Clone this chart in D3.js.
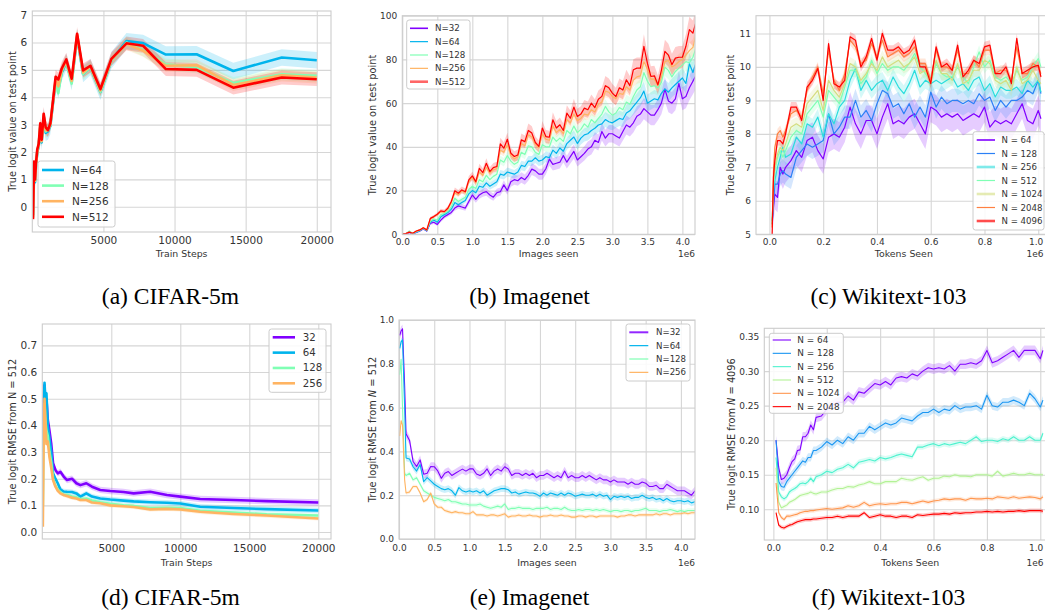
<!DOCTYPE html>
<html><head><meta charset="utf-8">
<script src="https://cdn.jsdelivr.net/npm/d3@7"></script>
<style>body{margin:0;background:#fff;}svg{display:block;}</style>
</head><body>
<svg id="fig" width="1045" height="610"></svg>
<script>
// ---------------- DATA ----------------
// (a) CIFAR-5m: true logit value vs train steps
const cifarSteps = [50,120,190,260,350,450,560,660,800,940,1100,1270,1460,1640,1830,2070,2390,2770,3150,3570,4090,4790,5560,6620,7790,9390,11550,14130,17540,20000];
const cifarLogit64  = [-0.3,1.5,0.9,1.5,2.0,2.2,2.9,2.35,3.3,2.7,2.75,2.95,3.8,4.55,4.3,4.9,5.3,4.55,6.2,4.85,5.1,4.2,5.35,6.05,5.98,5.56,5.57,4.96,5.45,5.35];
const cifarLogit128 = [-0.35,1.55,0.95,1.5,2.0,2.25,2.95,2.4,3.3,2.75,2.8,3.0,3.85,4.6,4.15,4.95,5.3,4.5,6.25,4.85,5.1,4.2,5.35,6.0,5.72,5.2,5.1,4.52,4.84,4.78];
const cifarLogit256 = [-0.4,1.6,0.95,1.55,2.05,2.25,3.0,2.4,3.35,2.8,2.8,3.0,3.85,4.65,4.4,5.0,5.33,4.6,6.28,4.9,5.12,4.25,5.38,5.95,5.7,5.15,5.17,4.45,4.8,4.72];
const cifarLogit512 = [-0.45,1.65,1.0,1.6,2.1,2.3,3.05,2.45,3.4,2.9,2.8,3.05,3.9,4.75,4.65,5.05,5.38,4.68,6.32,4.98,5.15,4.3,5.4,5.97,5.88,5.03,5.0,4.35,4.72,4.66];
const cifarLogitBand = [0.3,0.22,0.22,0.25];

// (b) Imagenet: true logit value vs images seen (x in 1e6)
const imgSeen = [0,0.05,0.1,0.15,0.2,0.25,0.3,0.35,0.4,0.45,0.5,0.55,0.6,0.65,0.7,0.75,0.8,0.85,0.9,0.95,1.0,1.05,1.1,1.15,1.2,1.25,1.3,1.35,1.4,1.45,1.5,1.55,1.6,1.65,1.7,1.75,1.8,1.85,1.9,1.95,2.0,2.05,2.1,2.15,2.2,2.25,2.3,2.35,2.4,2.45,2.5,2.55,2.6,2.65,2.7,2.75,2.8,2.85,2.9,2.95,3.0,3.05,3.1,3.15,3.2,3.25,3.3,3.35,3.4,3.45,3.5,3.55,3.6,3.65,3.7,3.75,3.8,3.85,3.9,3.95,4.0,4.05,4.1,4.15,4.2];
const imgLogit32 = [0,0.1,0.8,0.2,0.8,1.5,2.5,1.5,5.0,5.5,4.5,6.5,8.0,9.0,10.0,12.0,13.0,12.5,12.0,15.0,18.0,16.0,18.0,19.0,19.5,18.0,17.0,19.0,19.5,22.6,20.0,24.0,25.0,24.5,26.0,25.0,27.0,29.8,29.0,27.5,27.5,30.0,34.4,32.0,32.5,33.0,36.0,33.0,35.5,37.9,34.0,35.5,37.0,39.0,40.0,43.0,42.0,47.0,44.0,46.0,46.0,45.0,44.0,47.0,50.0,49.0,51.0,54.0,55.0,57.5,56.0,54.5,54.5,57.0,60.0,66.4,61.0,60.0,62.0,69.0,62.0,63.0,67.0,70.0,73.0];
const imgLogit64 = [0,0.2,1.2,0.3,1.0,1.6,2.6,1.6,5.5,6.5,5.5,8.0,9.0,10.0,11.5,14.5,13.5,14.5,15.5,18.5,20.0,19.0,22.0,21.5,23.5,22.0,23.0,24.0,27.5,27.0,28.5,28.0,27.5,28.5,31.5,31.0,33.5,33.5,35.0,33.5,34.0,35.5,35.0,38.5,37.0,39.5,38.0,41.5,43.0,44.5,41.5,44.0,45.5,46.0,47.5,48.5,50.0,50.5,52.5,51.5,51.0,52.0,53.0,52.5,55.5,56.5,58.5,60.5,62.5,65.5,60.0,61.0,62.0,61.5,64.5,66.5,65.0,67.0,68.5,70.0,71.5,69.0,78.0,74.0,79.0];
const imgLogit128 = [0,0.2,1.5,0.4,1.2,1.8,2.8,1.8,6.0,7.0,6.5,9.0,9.5,10.5,12.5,16.5,15.0,16.0,17.0,20.5,22.0,21.0,25.0,24.0,27.0,25.0,26.5,27.5,34.0,33.0,36.0,33.5,32.0,33.0,37.5,36.5,40.5,40.0,37.5,36.5,41.0,40.0,40.0,44.5,42.5,44.0,42.5,47.5,46.0,49.5,46.5,48.0,50.5,49.0,52.5,51.0,53.0,55.0,58.5,56.0,54.5,55.5,58.0,57.0,60.5,59.5,63.0,66.0,67.5,74.0,70.0,67.5,68.0,67.0,69.5,76.5,75.0,72.0,74.5,76.0,77.5,79.0,78.5,81.0,86.0];
const imgLogit256 = [0,0.3,1.0,0.5,1.4,2.0,2.9,2.0,7.0,8.0,9.0,10.3,10.2,11.5,14.5,19.0,18.0,19.8,19.0,24.0,26.0,23.5,28.5,27.0,30.5,28.0,29.5,30.0,38.5,37.5,41.0,36.0,34.5,35.5,41.5,40.5,45.5,44.5,41.0,39.5,46.0,43.5,43.0,49.5,46.5,48.0,46.0,52.5,51.0,55.0,52.0,53.0,55.0,54.5,57.0,56.0,59.5,60.5,65.5,65.0,63.0,62.0,64.5,64.0,67.5,66.0,70.5,72.0,72.5,79.0,75.5,71.0,71.0,68.0,72.0,79.0,79.5,76.5,77.5,79.0,80.0,82.0,84.0,85.5,92.0];
const imgLogit512 = [0,0.3,1.0,0.5,1.5,2.0,3.0,2.0,7.3,8.1,9.2,10.7,10.4,11.9,15.0,19.9,18.8,20.3,19.5,24.9,26.7,24.1,30.2,28.2,32.5,28.7,30.5,31.0,41.4,39.4,43.5,37.1,35.6,36.3,43.2,42.4,47.5,46.3,42.0,40.2,48.6,44.7,44.4,52.4,48.6,50.1,47.5,55.4,53.1,58.2,53.9,55.0,57.7,57.0,60.0,58.0,61.8,63.1,68.0,67.0,64.6,63.0,67.0,66.0,70.7,68.0,75.3,76.0,76.0,86.0,78.3,72.2,72.5,68.4,75.0,83.7,82.0,77.6,80.6,81.0,81.0,86.0,93.6,92.0,97.9];
const imgLogitBandRel = [0.08,0.06,0.05,0.04,0.06];

// (c) Wikitext-103: true logit value vs tokens seen (x in 1e6)
const wikiSeen = [0.01,0.015,0.02,0.03,0.04,0.05,0.06,0.08,0.10,0.12,0.14,0.16,0.18,0.20,0.22,0.24,0.26,0.28,0.30,0.32,0.34,0.36,0.38,0.40,0.42,0.44,0.46,0.48,0.50,0.52,0.54,0.56,0.58,0.60,0.62,0.64,0.66,0.68,0.70,0.72,0.74,0.76,0.78,0.80,0.82,0.84,0.86,0.88,0.90,0.92,0.94,0.96,0.98,1.00,1.01];
const wikiLogit64   = [5.4,5.8,6.2,6.1,7.0,6.8,7.0,7.2,7.5,7.3,7.8,7.9,7.5,7.25,7.9,8.0,7.9,8.2,8.8,8.3,8.0,8.4,8.4,8.0,8.5,8.9,8.3,8.4,8.3,8.5,8.6,8.3,8.0,8.8,8.7,8.5,8.6,8.5,8.6,8.4,8.5,8.6,8.5,8.8,8.2,8.4,8.3,8.4,8.3,8.6,8.9,8.4,8.3,8.7,8.45];
const wikiLogit128  = [5.3,5.9,6.5,6.5,6.8,6.9,6.8,6.7,7.3,7.5,7.7,7.6,7.7,7.8,8.6,8.0,8.2,8.5,8.5,9.0,8.5,8.7,8.4,8.9,9.3,9.2,8.8,8.9,8.6,8.9,8.5,8.8,8.5,9.25,8.8,9.1,8.9,9.0,9.0,8.9,9.0,8.9,9.2,9.0,9.1,8.7,9.0,8.8,9.0,9.0,9.1,9.3,9.2,9.6,9.2];
const wikiLogit256  = [5.4,6.3,6.6,7.0,7.3,7.6,7.3,7.4,7.9,7.7,8.3,8.2,8.5,7.9,8.6,8.3,8.8,9.0,9.6,9.95,9.3,9.6,9.3,9.5,9.6,9.3,9.7,9.4,9.2,9.5,9.9,9.4,9.6,9.5,9.6,9.5,9.6,9.7,9.4,9.5,9.3,9.6,9.7,9.3,9.5,9.1,9.4,9.3,9.3,9.4,9.2,9.6,9.4,9.6,9.25];
const wikiLogit512  = [5.3,6.5,6.9,7.3,7.5,7.3,7.5,7.9,8.1,8.0,8.6,8.8,9.0,8.5,9.3,9.1,8.9,9.4,9.9,9.9,9.5,9.7,10.2,9.8,10.1,9.9,10.0,10.0,9.9,10.1,10.4,10.0,9.8,9.6,10.1,9.8,9.7,9.7,10.0,9.7,9.5,10.0,10.45,10.0,10.2,9.7,9.6,9.7,9.5,9.9,9.6,9.7,10.0,10.25,10.0];
const wikiLogit1024 = [5.3,6.6,7.0,7.4,7.6,7.5,7.7,8.2,8.3,8.2,8.9,9.1,9.3,8.7,9.6,9.3,9.1,9.5,10.1,10.0,9.6,9.8,10.1,9.9,10.3,10.0,10.1,10.2,10.0,10.1,10.3,9.8,9.9,9.5,10.2,9.8,9.8,9.6,10.1,9.5,9.6,9.9,9.9,10.2,10.1,9.6,9.5,9.6,9.3,10.0,9.5,9.6,9.9,9.6,9.5];
const wikiLogit2048 = [5.2,6.9,7.6,8.0,8.1,7.9,8.1,8.6,8.7,8.5,9.3,9.7,10.0,9.2,10.5,9.6,9.3,9.8,10.8,10.6,10.1,10.2,10.7,10.3,10.8,10.3,10.4,10.5,10.3,10.4,10.6,10.1,10.1,9.6,10.5,10.0,10.0,9.9,10.5,9.8,9.8,10.2,10.0,10.5,10.5,9.8,9.9,9.9,9.6,10.6,9.8,9.8,10.1,10.0,9.8];
const wikiLogit4096 = [5.0,6.7,7.2,7.8,7.8,7.7,8.0,8.8,8.8,8.4,9.4,9.6,9.95,9.0,10.7,9.5,9.4,9.6,10.9,10.8,10.0,10.3,10.85,10.2,11.0,10.5,10.5,10.6,10.4,10.5,10.8,10.0,10.0,9.5,10.6,10.0,10.1,9.9,10.65,9.7,9.9,10.2,10.1,10.6,10.65,9.8,9.8,10.0,9.5,10.85,9.8,9.9,10.0,10.05,9.7];
const wikiLogitBand = [0.45,0.35,0.25,0.2,0.2,0.15,0.15];

// (d) CIFAR-5m: RMSE from N=512 vs train steps
const cifarRmseSteps = [40,100,160,220,300,400,520,650,780,950,1120,1310,1550,1790,2150,2470,2760,3190,3600,4200,4930,5890,6620,7820,9030,10000,11440,13850,16260,20000];
const cifarRmse32  = [0.35,0.5,0.55,0.48,0.5,0.42,0.38,0.33,0.258,0.233,0.22,0.226,0.208,0.195,0.2,0.183,0.176,0.183,0.17,0.158,0.154,0.15,0.145,0.151,0.139,0.133,0.124,0.12,0.116,0.111];
const cifarRmse64  = [0.3,0.45,0.56,0.5,0.52,0.4,0.35,0.3,0.22,0.2,0.183,0.16,0.152,0.151,0.15,0.145,0.133,0.145,0.133,0.126,0.122,0.118,0.115,0.112,0.11,0.107,0.095,0.09,0.086,0.081];
const cifarRmse128 = [0.1,0.4,0.48,0.42,0.38,0.36,0.3,0.26,0.2,0.175,0.16,0.15,0.14,0.14,0.133,0.13,0.124,0.126,0.118,0.112,0.106,0.1,0.098,0.09,0.091,0.09,0.08,0.073,0.067,0.062];
const cifarRmse256 = [0.02,0.35,0.5,0.42,0.33,0.34,0.28,0.24,0.195,0.17,0.155,0.145,0.139,0.135,0.129,0.126,0.12,0.12,0.111,0.108,0.1,0.097,0.094,0.085,0.087,0.085,0.076,0.068,0.062,0.051];
const cifarRmseBand = [0.012,0.01,0.008,0.008];

// (e) Imagenet: RMSE from N=512 vs images seen (x in 1e6)
const imgRmseSeen = [0.01,0.03,0.05,0.08,0.1,0.15,0.2,0.25,0.3,0.35,0.4,0.45,0.5,0.55,0.6,0.65,0.7,0.75,0.8,0.85,0.9,0.95,1.0,1.05,1.1,1.15,1.2,1.25,1.3,1.35,1.4,1.45,1.5,1.55,1.6,1.65,1.7,1.75,1.8,1.85,1.9,1.95,2.0,2.05,2.1,2.15,2.2,2.25,2.3,2.35,2.4,2.45,2.5,2.55,2.6,2.65,2.7,2.75,2.8,2.85,2.9,2.95,3.0,3.05,3.1,3.15,3.2,3.25,3.3,3.35,3.4,3.45,3.5,3.55,3.6,3.65,3.7,3.75,3.8,3.85,3.9,3.95,4.0,4.05,4.1,4.15,4.2];
const imgRmse32  = [0.93,0.95,0.96,0.70,0.48,0.45,0.354,0.331,0.361,0.296,0.30,0.331,0.33,0.311,0.277,0.30,0.308,0.29,0.30,0.31,0.319,0.31,0.32,0.32,0.297,0.29,0.30,0.32,0.29,0.31,0.32,0.31,0.33,0.32,0.29,0.30,0.30,0.29,0.30,0.29,0.30,0.28,0.29,0.29,0.30,0.29,0.28,0.29,0.28,0.31,0.28,0.29,0.28,0.28,0.29,0.28,0.29,0.28,0.27,0.28,0.27,0.27,0.26,0.27,0.26,0.26,0.26,0.25,0.26,0.25,0.25,0.26,0.255,0.24,0.24,0.245,0.23,0.23,0.25,0.24,0.23,0.22,0.22,0.22,0.21,0.20,0.22];
const imgRmse64  = [0.87,0.90,0.91,0.60,0.37,0.365,0.33,0.31,0.34,0.262,0.28,0.265,0.25,0.24,0.23,0.225,0.23,0.22,0.20,0.235,0.22,0.215,0.22,0.215,0.22,0.21,0.22,0.20,0.21,0.22,0.225,0.23,0.23,0.225,0.21,0.215,0.205,0.21,0.215,0.21,0.21,0.205,0.195,0.21,0.20,0.21,0.205,0.20,0.21,0.20,0.21,0.205,0.195,0.20,0.205,0.20,0.20,0.205,0.195,0.205,0.195,0.20,0.18,0.195,0.19,0.195,0.19,0.195,0.185,0.19,0.19,0.20,0.19,0.185,0.19,0.18,0.185,0.175,0.185,0.175,0.17,0.175,0.175,0.17,0.175,0.165,0.17];
const imgRmse128 = [0.75,0.82,0.60,0.30,0.29,0.30,0.27,0.28,0.25,0.22,0.21,0.20,0.19,0.185,0.18,0.175,0.18,0.17,0.17,0.165,0.16,0.16,0.155,0.155,0.155,0.16,0.15,0.145,0.14,0.145,0.15,0.145,0.16,0.135,0.14,0.14,0.145,0.14,0.14,0.14,0.135,0.14,0.14,0.14,0.145,0.135,0.14,0.14,0.135,0.145,0.135,0.13,0.13,0.135,0.13,0.135,0.135,0.13,0.135,0.13,0.135,0.13,0.125,0.13,0.13,0.125,0.13,0.13,0.125,0.13,0.13,0.135,0.14,0.13,0.13,0.13,0.125,0.13,0.13,0.135,0.13,0.125,0.13,0.125,0.13,0.13,0.13];
const imgRmse256 = [0.47,0.54,0.52,0.27,0.21,0.215,0.24,0.24,0.21,0.17,0.18,0.21,0.16,0.145,0.145,0.13,0.125,0.12,0.125,0.12,0.12,0.115,0.115,0.125,0.11,0.11,0.11,0.105,0.11,0.11,0.105,0.11,0.115,0.10,0.105,0.105,0.11,0.105,0.105,0.11,0.105,0.105,0.10,0.105,0.105,0.11,0.105,0.105,0.11,0.105,0.105,0.10,0.10,0.105,0.105,0.10,0.105,0.105,0.10,0.105,0.105,0.105,0.105,0.105,0.10,0.105,0.105,0.11,0.11,0.105,0.11,0.11,0.11,0.11,0.11,0.115,0.11,0.115,0.115,0.11,0.115,0.115,0.115,0.12,0.115,0.12,0.12];
const imgRmseBand = [0.02,0.015,0.01,0.008];

// (f) Wikitext-103: RMSE from N=4096 vs tokens seen (x in 1e6)
const wikiRmseSeen = [0.01,0.02,0.03,0.04,0.05,0.06,0.07,0.08,0.09,0.10,0.11,0.12,0.13,0.14,0.15,0.16,0.18,0.20,0.22,0.24,0.26,0.28,0.30,0.32,0.34,0.36,0.38,0.40,0.42,0.44,0.46,0.48,0.50,0.52,0.54,0.56,0.58,0.60,0.62,0.64,0.66,0.68,0.70,0.72,0.74,0.76,0.78,0.80,0.82,0.84,0.86,0.88,0.90,0.92,0.94,0.96,0.98,1.00,1.01];
const wikiRmse64   = [0.200,0.160,0.143,0.145,0.150,0.160,0.169,0.173,0.185,0.186,0.205,0.205,0.210,0.222,0.215,0.233,0.235,0.245,0.250,0.255,0.255,0.264,0.258,0.270,0.268,0.275,0.282,0.280,0.285,0.280,0.290,0.292,0.290,0.296,0.293,0.300,0.305,0.303,0.305,0.303,0.308,0.300,0.310,0.310,0.312,0.310,0.315,0.330,0.312,0.315,0.320,0.325,0.330,0.320,0.330,0.330,0.330,0.318,0.330];
const wikiRmse128  = [0.200,0.140,0.133,0.132,0.140,0.145,0.150,0.155,0.160,0.165,0.170,0.168,0.175,0.175,0.185,0.185,0.190,0.198,0.193,0.200,0.195,0.205,0.200,0.210,0.210,0.220,0.215,0.220,0.225,0.222,0.225,0.232,0.230,0.228,0.235,0.240,0.240,0.245,0.240,0.245,0.243,0.250,0.245,0.248,0.248,0.250,0.245,0.265,0.250,0.248,0.255,0.255,0.258,0.255,0.250,0.268,0.260,0.248,0.258];
const wikiRmse256  = [0.175,0.125,0.118,0.115,0.118,0.125,0.128,0.130,0.133,0.137,0.138,0.137,0.140,0.145,0.140,0.147,0.150,0.155,0.153,0.158,0.160,0.165,0.160,0.168,0.170,0.172,0.170,0.175,0.173,0.175,0.178,0.180,0.178,0.176,0.190,0.190,0.193,0.195,0.192,0.195,0.193,0.195,0.197,0.195,0.200,0.205,0.198,0.200,0.200,0.198,0.202,0.200,0.205,0.200,0.200,0.205,0.200,0.200,0.210];
const wikiRmse512  = [0.160,0.110,0.102,0.104,0.106,0.110,0.112,0.114,0.117,0.120,0.121,0.122,0.123,0.125,0.123,0.122,0.125,0.125,0.128,0.130,0.130,0.133,0.132,0.135,0.137,0.140,0.137,0.137,0.140,0.140,0.140,0.145,0.143,0.142,0.145,0.147,0.142,0.145,0.145,0.148,0.147,0.150,0.148,0.148,0.147,0.150,0.150,0.150,0.148,0.155,0.148,0.150,0.152,0.150,0.150,0.152,0.150,0.150,0.150];
const wikiRmse1024 = [0.138,0.095,0.088,0.085,0.090,0.090,0.091,0.092,0.093,0.095,0.096,0.097,0.097,0.098,0.098,0.099,0.100,0.101,0.100,0.101,0.102,0.105,0.103,0.105,0.110,0.105,0.107,0.108,0.107,0.108,0.108,0.110,0.110,0.108,0.110,0.112,0.110,0.112,0.113,0.115,0.114,0.115,0.115,0.113,0.116,0.115,0.115,0.116,0.115,0.118,0.117,0.116,0.118,0.116,0.117,0.118,0.117,0.115,0.118];
const wikiRmse2048 = [0.095,0.077,0.074,0.073,0.075,0.077,0.078,0.080,0.082,0.083,0.084,0.085,0.085,0.085,0.086,0.086,0.087,0.088,0.088,0.090,0.088,0.090,0.090,0.090,0.095,0.088,0.090,0.092,0.090,0.090,0.088,0.090,0.090,0.088,0.092,0.091,0.092,0.093,0.093,0.094,0.093,0.095,0.094,0.095,0.095,0.096,0.096,0.097,0.096,0.097,0.096,0.097,0.097,0.098,0.097,0.098,0.098,0.098,0.097];
const wikiRmseBand = [0.007,0.006,0.004,0.003,0.003,0.003];

// tick values
const ticksSteps = [5000,10000,15000,20000];
const ticksLogitA = [0,1,2,3,4,5,6,7];
const ticksImgX = [0,0.5,1,1.5,2,2.5,3,3.5,4];
const ticksLogitB = [0,20,40,60,80,100];
const ticksWikiX = [0,0.2,0.4,0.6,0.8,1.0];
const ticksLogitC = [5,6,7,8,9,10,11];
const ticksRmseD = [0,0.1,0.2,0.3,0.4,0.5,0.6,0.7];
const ticksRmseE = [0,0.2,0.4,0.6,0.8,1.0];
const ticksRmseF = [0.10,0.15,0.20,0.25,0.30,0.35];

// legend labels
const labelsA = ['N=64','N=128','N=256','N=512'];
const labelsB = ['N=32','N=64','N=128','N=256','N=512'];
const labelsC = ['N = 64','N = 128','N = 256','N = 512','N = 1024','N = 2048','N = 4096'];
const labelsD = ['32','64','128','256'];
const labelsE = ['N=32','N=64','N=128','N=256'];
const labelsF = ['N = 64','N = 128','N = 256','N = 512','N = 1024','N = 2048'];
const captions = ['(a) CIFAR-5m','(b) Imagenet','(c) Wikitext-103','(d) CIFAR-5m','(e) Imagenet','(f) Wikitext-103'];

// ---------------- STYLE ----------------
const rainbow5 = ['#8000ff','#00b4ec','#80ffb4','#ffb462','#ff0000'];
const rainbow7 = ['#8000ff','#2b80f6','#2bdddd','#80ffb4','#d4dd80','#ff8042','#ff0000'];
const rainbow6 = ['#8000ff','#1a96f2','#4df2ce','#b3f296','#ff964f','#ff0000'];
const FONT = '"DejaVu Sans", sans-serif';
const GRID = '#d6d6d6', TXT = '#333333';
const EDGE = 1043.5;
const svg = d3.select('#fig');

function mk(xs, ys, color, w){ return {x: xs, y: ys, c: color, w: w}; }

function keepInside(sel){
  sel.each(function(){
    const r = this.getBoundingClientRect();
    if (r.right > EDGE) d3.select(this).attr('dx', EDGE - r.right);
  });
}

function drawPanel(p){
  const x = d3.scaleLinear().domain(p.xd).range([p.l, p.r]);
  const y = d3.scaleLinear().domain(p.yd).range([p.b, p.t]);
  const g = svg.append('g');
  const cid = 'clip-' + p.id;
  g.append('clipPath').attr('id', cid).append('rect')
    .attr('x', p.l).attr('y', p.t).attr('width', p.r - p.l).attr('height', p.b - p.t);
  const gx = g.append('g').attr('transform', `translate(0,${p.b})`)
    .call(d3.axisBottom(x).tickValues(p.xt).tickSize(-(p.b - p.t)).tickFormat(''));
  const gy = g.append('g').attr('transform', `translate(${p.l},0)`)
    .call(d3.axisLeft(y).tickValues(p.yt).tickSize(-(p.r - p.l)).tickFormat(''));
  [gx, gy].forEach(a => { a.select('.domain').remove(); a.selectAll('line').attr('stroke', GRID).attr('stroke-width', 1.1); });

  const plot = g.append('g').attr('clip-path', `url(#${cid})`);
  p.series.forEach(s => {
    const pts = s.x.map((xv, i) => ({x: xv, v: s.y[i], w: s.w(s.y[i])}));
    plot.append('path').datum(pts)
      .attr('d', d3.area().x(d => x(d.x)).y0(d => y(d.v - d.w)).y1(d => y(d.v + d.w)))
      .attr('fill', s.c).attr('fill-opacity', 0.2).attr('stroke', 'none');
  });
  p.series.forEach(s => {
    const pts = s.x.map((xv, i) => ({x: xv, v: s.y[i]}));
    plot.append('path').datum(pts)
      .attr('d', d3.line().x(d => x(d.x)).y(d => y(d.v)))
      .attr('fill', 'none').attr('stroke', s.c).attr('stroke-width', p.lw)
      .attr('stroke-linejoin', 'round').attr('stroke-linecap', 'butt');
  });
  g.append('rect').attr('x', p.l).attr('y', p.t).attr('width', p.r - p.l).attr('height', p.b - p.t)
    .attr('fill', 'none').attr('stroke', '#cccccc').attr('stroke-width', 1.1);

  const ax = g.append('g').attr('transform', `translate(0,${p.b})`)
    .call(d3.axisBottom(x).tickValues(p.xt).tickSize(0).tickPadding(p.xpad).tickFormat(p.xf));
  const ay = g.append('g').attr('transform', `translate(${p.l},0)`)
    .call(d3.axisLeft(y).tickValues(p.yt).tickSize(0).tickPadding(5).tickFormat(p.yf));
  [ax, ay].forEach(a => {
    a.select('.domain').remove();
    a.attr('font-family', FONT).attr('font-size', p.fs);
    a.selectAll('text').attr('fill', TXT);
  });
  keepInside(ax.selectAll('text'));

  // axis labels
  g.append('text').attr('x', (p.l + p.r) / 2).attr('y', p.xly).attr('text-anchor', 'middle')
    .attr('font-family', FONT).attr('font-size', 9.4).attr('fill', TXT).text(p.xlabel);
  if (p.offset) {
    g.append('text').attr('x', Math.min(p.r, EDGE)).attr('y', p.xly).attr('text-anchor', 'end')
      .attr('font-family', FONT).attr('font-size', 9).attr('fill', TXT).text(p.offset);
  }
  const yl = g.append('text').attr('transform', `translate(${p.ylx},${(p.t + p.b) / 2}) rotate(-90)`)
    .attr('text-anchor', 'middle').attr('dominant-baseline', 'central')
    .attr('font-family', FONT).attr('font-size', 9.8).attr('fill', TXT);
  p.ylabel.forEach(part => {
    yl.append('tspan').attr('font-style', part[1] ? 'italic' : 'normal').text(part[0]);
  });

  // legend
  const L = p.legend;
  g.append('rect').attr('x', L.x).attr('y', L.y).attr('width', L.w).attr('height', L.h).attr('rx', 2.5)
    .attr('fill', '#ffffff').attr('fill-opacity', 0.85).attr('stroke', '#cccccc').attr('stroke-width', 1);
  L.labels.forEach((lab, i) => {
    const yy = L.ry + i * L.dy;
    const st = L.styles ? L.styles[i] : [p.lw, 1];
    g.append('line').attr('x1', L.lx0).attr('x2', L.lx1).attr('y1', yy).attr('y2', yy)
      .attr('stroke', p.series[i].c).attr('stroke-width', st[0]).attr('stroke-opacity', st[1]);
    g.append('text').attr('x', L.tx).attr('y', yy).attr('dominant-baseline', 'central')
      .attr('font-family', FONT).attr('font-size', L.fs).attr('fill', TXT).text(lab);
  });

  // caption
  svg.append('text').attr('x', p.capx).attr('y', p.capy).attr('text-anchor', 'middle')
    .attr('font-family', '"Liberation Serif", serif').attr('font-size', 23.5).attr('fill', '#000').text(p.caption);
}

const fmtInt = d3.format('d'), fmt1 = d3.format('.1f'), fmt2 = d3.format('.2f');

drawPanel({
  id: 'a', l: 32.3, r: 331, t: 11, b: 232, xd: [0, 21000], yd: [-0.92, 7.15],
  xt: ticksSteps, yt: ticksLogitA, xf: fmtInt, yf: fmtInt, fs: 10.5, xpad: 5, lw: 2.6,
  series: [
    mk(cifarSteps, cifarLogit64, rainbow5[1], () => cifarLogitBand[0]),
    mk(cifarSteps, cifarLogit128, rainbow5[2], () => cifarLogitBand[1]),
    mk(cifarSteps, cifarLogit256, rainbow5[3], () => cifarLogitBand[2]),
    mk(cifarSteps, cifarLogit512, rainbow5[4], () => cifarLogitBand[3])
  ],
  xlabel: 'Train Steps', xly: 257, ylx: 12, ylabel: [['True logit value on test point', false]],
  legend: {x: 38, y: 161, w: 77, h: 66, ry: 170, dy: 15.6, lx0: 42, lx1: 64, tx: 72, fs: 10.5, labels: labelsA},
  caption: captions[0], capx: 170.5, capy: 304
});

drawPanel({
  id: 'b', l: 402.3, r: 695, t: 15.7, b: 234.3, xd: [0, 4.18], yd: [0, 100],
  xt: ticksImgX, yt: ticksLogitB, xf: fmt1, yf: fmtInt, fs: 9, xpad: 4, lw: 1.2,
  series: [
    mk(imgSeen, imgLogit32, rainbow5[0], v => imgLogitBandRel[0] * v + 0.3),
    mk(imgSeen, imgLogit64, rainbow5[1], v => imgLogitBandRel[1] * v + 0.3),
    mk(imgSeen, imgLogit128, rainbow5[2], v => imgLogitBandRel[2] * v + 0.3),
    mk(imgSeen, imgLogit256, rainbow5[3], v => imgLogitBandRel[3] * v + 0.3),
    mk(imgSeen, imgLogit512, rainbow5[4], v => imgLogitBandRel[4] * v + 0.3)
  ],
  xlabel: 'Images seen', offset: '1e6', xly: 257, ylx: 372, ylabel: [['True logit value on test point', false]],
  legend: {x: 406.7, y: 20, w: 63.3, h: 69, ry: 28.3, dy: 13.35, lx0: 410, lx1: 428, tx: 435, fs: 8.7, labels: labelsB,
           styles: [[1.6, 1], [1.2, 1], [1.2, 1], [1.2, 1], [2.6, 0.6]]},
  caption: captions[1], capx: 529.5, capy: 304
});

drawPanel({
  id: 'c', l: 756, r: 1051.7, t: 15.7, b: 234.3, xd: [-0.05, 1.05], yd: [5, 11.53],
  xt: ticksWikiX, yt: ticksLogitC, xf: fmt1, yf: fmtInt, fs: 9, xpad: 4, lw: 1.2,
  series: [
    mk(wikiSeen, wikiLogit64, rainbow7[0], () => wikiLogitBand[0]),
    mk(wikiSeen, wikiLogit128, rainbow7[1], () => wikiLogitBand[1]),
    mk(wikiSeen, wikiLogit256, rainbow7[2], () => wikiLogitBand[2]),
    mk(wikiSeen, wikiLogit512, rainbow7[3], () => wikiLogitBand[3]),
    mk(wikiSeen, wikiLogit1024, rainbow7[4], () => wikiLogitBand[4]),
    mk(wikiSeen, wikiLogit2048, rainbow7[5], () => wikiLogitBand[5]),
    mk(wikiSeen, wikiLogit4096, rainbow7[6], () => wikiLogitBand[6])
  ],
  xlabel: 'Tokens Seen', offset: '1e6', xly: 257, ylx: 730, ylabel: [['True logit value on test point', false]],
  legend: {x: 973, y: 131.7, w: 71, h: 98.3, ry: 140, dy: 13.5, lx0: 976.7, lx1: 995, tx: 1001.5, fs: 8.6, labels: labelsC,
           styles: [[2, 0.8], [1.2, 1], [2.6, 0.6], [1.2, 1], [2.6, 0.6], [1.2, 1], [2.6, 0.7]]},
  caption: captions[2], capx: 888.5, capy: 304
});

drawPanel({
  id: 'd', l: 42.3, r: 331, t: 324, b: 539, xd: [0, 20920], yd: [-0.026, 0.78],
  xt: ticksSteps, yt: ticksRmseD, xf: fmtInt, yf: fmt1, fs: 10.5, xpad: 6, lw: 2.6,
  series: [
    mk(cifarRmseSteps, cifarRmse32, rainbow5[0], () => cifarRmseBand[0]),
    mk(cifarRmseSteps, cifarRmse64, rainbow5[1], () => cifarRmseBand[1]),
    mk(cifarRmseSteps, cifarRmse128, rainbow5[2], () => cifarRmseBand[2]),
    mk(cifarRmseSteps, cifarRmse256, rainbow5[3], () => cifarRmseBand[3])
  ],
  xlabel: 'Train Steps', xly: 566, ylx: 12, ylabel: [['True logit RMSE from N = 512', false]],
  legend: {x: 269, y: 329, w: 57, h: 63.3, ry: 337.3, dy: 15.33, lx0: 272.7, lx1: 295, tx: 302.7, fs: 10.2, labels: labelsD},
  caption: captions[3], capx: 170.5, capy: 605
});

drawPanel({
  id: 'e', l: 399, r: 695, t: 320, b: 539, xd: [0, 4.2], yd: [0, 1],
  xt: ticksImgX, yt: ticksRmseE, xf: fmt1, yf: fmt1, fs: 9, xpad: 6, lw: 1.1,
  series: [
    mk(imgRmseSeen, imgRmse32, rainbow5[0], () => imgRmseBand[0]),
    mk(imgRmseSeen, imgRmse64, rainbow5[1], () => imgRmseBand[1]),
    mk(imgRmseSeen, imgRmse128, rainbow5[2], () => imgRmseBand[2]),
    mk(imgRmseSeen, imgRmse256, rainbow5[3], () => imgRmseBand[3])
  ],
  xlabel: 'Images seen', offset: '1e6', xly: 566, ylx: 372,
  ylabel: [['True logit RMSE from ', false], ['N', true], [' = 512', false]],
  legend: {x: 626, y: 324, w: 64, h: 57, ry: 332.3, dy: 13.35, lx0: 629.3, lx1: 648.3, tx: 656, fs: 8.6, labels: labelsE,
           styles: [[2, 0.85], [1.2, 1], [1.2, 1], [1.2, 1]]},
  caption: captions[4], capx: 529.5, capy: 605
});

drawPanel({
  id: 'f', l: 764.3, r: 1056.3, t: 328.3, b: 540, xd: [-0.034, 1.06], yd: [0.0555, 0.362],
  xt: ticksWikiX, yt: ticksRmseF, xf: fmt1, yf: fmt2, fs: 9, xpad: 5, lw: 1.1,
  series: [
    mk(wikiRmseSeen, wikiRmse64, rainbow6[0], () => wikiRmseBand[0]),
    mk(wikiRmseSeen, wikiRmse128, rainbow6[1], () => wikiRmseBand[1]),
    mk(wikiRmseSeen, wikiRmse256, rainbow6[2], () => wikiRmseBand[2]),
    mk(wikiRmseSeen, wikiRmse512, rainbow6[3], () => wikiRmseBand[3]),
    mk(wikiRmseSeen, wikiRmse1024, rainbow6[4], () => wikiRmseBand[4]),
    mk(wikiRmseSeen, wikiRmse2048, rainbow6[5], () => wikiRmseBand[5])
  ],
  xlabel: 'Tokens Seen', offset: '1e6', xly: 566, ylx: 731,
  ylabel: [['True logit RMSE from ', false], ['N', true], [' = 4096', false]],
  legend: {x: 769.3, y: 333.3, w: 74, h: 80, ry: 340, dy: 13.33, lx0: 772.7, lx1: 791, tx: 797.3, fs: 8.9, labels: labelsF},
  caption: captions[5], capx: 888.5, capy: 605
});
</script>
</body></html>
